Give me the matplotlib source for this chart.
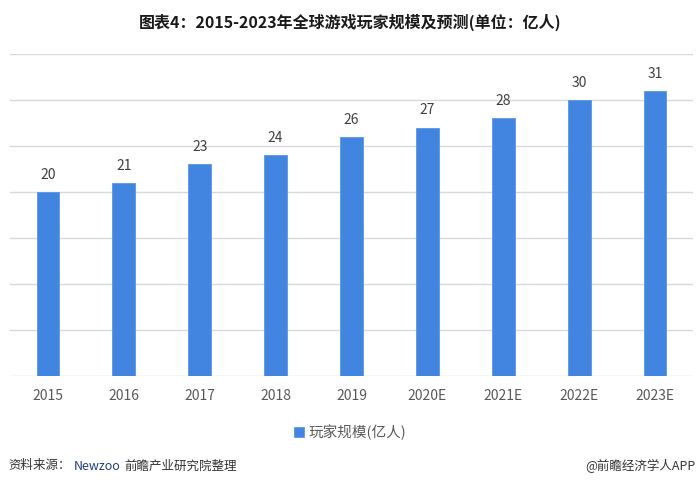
import matplotlib.pyplot as plt
import numpy as np

plt.rcParams['font.family'] = ['Noto Sans CJK SC', 'DejaVu Sans']

# data
years = ['2015', '2016', '2017', '2018', '2019', '2020E', '2021E', '2022E', '2023E']
players = [20, 21, 23, 24, 26, 27, 28, 30, 31]

bar_color = '#4285E0'

fig = plt.figure(figsize=(7, 4.87), dpi=100)
ax = fig.add_axes([10 / 700, 1 - 376 / 487, 683 / 700, 322 / 487])

x = np.arange(len(years))
bars = ax.bar(x, players, width=0.30, color=bar_color, edgecolor='#5A97EA',
              linewidth=0.6, label='玩家规模(亿人)', zorder=3)

for xi, v in zip(x, players):
    ax.text(xi, v + 1.1, str(v), ha='center', va='bottom', fontsize=10,
            color='#404040', zorder=4)

ax.set_xlim(-0.5, len(years) - 0.5)
ax.set_ylim(0, 35)
ax.set_yticks(np.arange(0, 36, 5))
ax.yaxis.grid(True, color='#D9D9D9', linewidth=1, zorder=0)
ax.set_yticklabels([])
ax.tick_params(axis='y', length=0)
ax.set_xticks(x)
ax.set_xticklabels(years, fontsize=10, color='#595959')
ax.tick_params(axis='x', length=0, pad=9)
for s in ax.spines.values():
    s.set_visible(False)

# title
fig.text(0.5, 1 - 22 / 487, '图表4：2015-2023年全球游戏玩家规模及预测(单位：亿人)',
         ha='center', va='center', fontsize=11.5, fontweight='bold', color='#1a1a1a')

# legend
fig.legend(handles=[bars], labels=['玩家规模(亿人)'], loc='center',
           bbox_to_anchor=(0.5, 1 - 432 / 487), frameon=False, fontsize=10.5,
           handlelength=0.7, handleheight=0.7, handletextpad=0.3,
           labelcolor='#595959')

# footer
fy = 1 - 466 / 487
fig.text(8 / 700, fy, '资料来源：', ha='left', va='center',
         fontsize=9, color='#333333')
fig.text(74 / 700, fy, 'Newzoo', ha='left', va='center',
         fontsize=9, color='#1F3F7F')
fig.text(124 / 700, fy, '前瞻产业研究院整理', ha='left', va='center',
         fontsize=9, color='#333333')
fig.text(695 / 700, fy, '@前瞻经济学人APP', ha='right', va='center',
         fontsize=9, color='#333333')

fig.savefig('out.png', dpi=100)
